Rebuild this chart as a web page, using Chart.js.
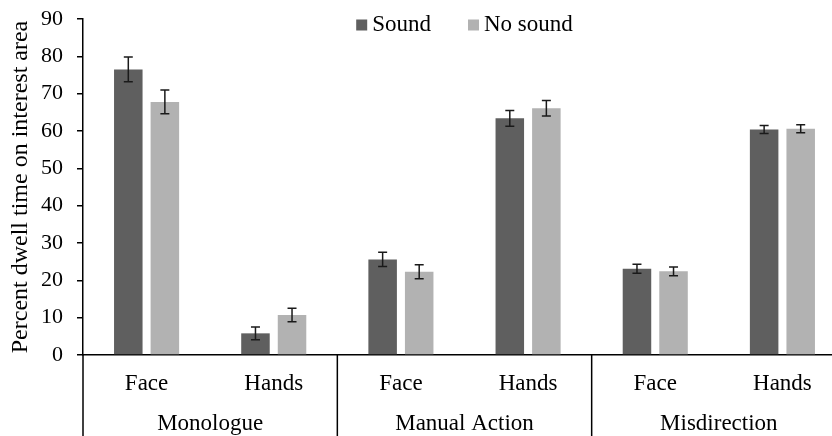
<!DOCTYPE html>
<html>
<head>
<meta charset="utf-8">
<script src="https://cdn.jsdelivr.net/npm/chart.js@4"></script>
<style>
  html, body { margin: 0; padding: 0; background: #fff; overflow: hidden; }
  #wrap { width: 846px; height: 436px; }
</style>
</head>
<body>
<div id="wrap"><canvas id="dwellChart"></canvas></div>
<script>
const categories = ["Face", "Hands", "Face", "Hands", "Face", "Hands"];
const groups = ["Monologue", "Manual Action", "Misdirection"];
const soundValues = [76.5, 5.8, 25.6, 63.4, 23.1, 60.4];
const soundErrors = [3.3, 1.7, 1.9, 2.1, 1.2, 1.1];
const noSoundValues = [67.8, 10.7, 22.3, 66.1, 22.4, 60.6];
const noSoundErrors = [3.2, 1.8, 1.9, 2.1, 1.2, 1.1];
const yTicks = [0, 10, 20, 30, 40, 50, 60, 70, 80, 90];

const serif = "'Liberation Serif', 'Times New Roman', serif";

// error bars drawn through the y scale
const errorBars = {
    id: 'errorBars',
    afterDatasetsDraw(chart) {
        const ctx = chart.ctx;
        const y = chart.scales.y;
        ctx.save();
        ctx.strokeStyle = '#1a1a1a';
        ctx.lineWidth = 1.5;
        chart.data.datasets.forEach((ds, di) => {
            const meta = chart.getDatasetMeta(di);
            meta.data.forEach((bar, i) => {
                const v = ds.data[i], e = ds.errors[i];
                const top = y.getPixelForValue(v + e);
                const bot = y.getPixelForValue(v - e);
                ctx.beginPath();
                ctx.moveTo(bar.x, top); ctx.lineTo(bar.x, bot);
                ctx.moveTo(bar.x - 4.5, top); ctx.lineTo(bar.x + 4.5, top);
                ctx.moveTo(bar.x - 4.5, bot); ctx.lineTo(bar.x + 4.5, bot);
                ctx.stroke();
            });
        });
        ctx.restore();
    }
};

// group labels under the category labels, with separators
const groupAxis = {
    id: 'groupAxis',
    afterDraw(chart) {
        const ctx = chart.ctx;
        const x = chart.scales.x;
        const area = chart.chartArea;
        const step = x.getPixelForValue(1) - x.getPixelForValue(0);
        ctx.save();
        ctx.strokeStyle = '#000';
        ctx.lineWidth = 1.5;
        for (let g = 0; g <= groups.length; g++) {
            const px = x.getPixelForValue(g * 2) - step / 2;
            ctx.beginPath();
            ctx.moveTo(px, area.bottom);
            ctx.lineTo(px, chart.height);
            ctx.stroke();
        }
        ctx.fillStyle = '#000';
        ctx.font = '23px ' + serif;
        ctx.textAlign = 'center';
        ctx.textBaseline = 'middle';
        groups.forEach((name, g) => {
            const cx = (x.getPixelForValue(g * 2) + x.getPixelForValue(g * 2 + 1)) / 2;
            ctx.fillText(name, cx, 424);
        });
        ctx.restore();
    }
};

// legend drawn inside the plot at the top
const innerLegend = {
    id: 'innerLegend',
    afterDraw(chart) {
        const ctx = chart.ctx;
        const area = chart.chartArea;
        const box = 11, gapText = 5, gapItem = 37;
        ctx.save();
        ctx.font = '23px ' + serif;
        ctx.textBaseline = 'middle';
        ctx.textAlign = 'left';
        const items = chart.data.datasets.map(ds => ({
            label: ds.label, color: ds.backgroundColor, w: ctx.measureText(ds.label).width
        }));
        let total = 0;
        items.forEach((it, i) => { total += box + gapText + it.w + (i ? gapItem : 0); });
        let px = (area.left + area.right) / 2 - total / 2;
        const cy = 25;
        items.forEach(it => {
            ctx.fillStyle = it.color;
            ctx.fillRect(px, cy - box / 2, box, box);
            ctx.fillStyle = '#000';
            ctx.fillText(it.label, px + box + gapText, cy);
            px += box + gapText + it.w + gapItem;
        });
        ctx.restore();
    }
};

new Chart(document.getElementById('dwellChart'), {
    type: 'bar',
    data: {
        labels: categories,
        datasets: [
            {
                label: 'Sound',
                data: soundValues,
                errors: soundErrors,
                backgroundColor: '#5f5f5f',
                categoryPercentage: 0.575,
                barPercentage: 0.78
            },
            {
                label: 'No sound',
                data: noSoundValues,
                errors: noSoundErrors,
                backgroundColor: '#b2b2b2',
                categoryPercentage: 0.575,
                barPercentage: 0.78
            }
        ]
    },
    options: {
        responsive: true,
        maintainAspectRatio: false,
        animation: false,
        layout: { padding: { top: 19, right: 0, left: 0, bottom: 0 } },
        plugins: {
            legend: { display: false },
            tooltip: { enabled: false }
        },
        scales: {
            x: {
                grid: { drawOnChartArea: false, drawTicks: false },
                border: { color: '#000', width: 1.5 },
                ticks: { color: '#000', font: { family: serif, size: 23 }, padding: 15, maxRotation: 0 },
                afterFit: s => { s.height = 81; }
            },
            y: {
                min: 0,
                max: 90,
                afterBuildTicks: s => { s.ticks = yTicks.map(v => ({ value: v })); },
                grid: { drawOnChartArea: false, drawTicks: true, tickLength: 6, color: '#000', lineWidth: 1.5 },
                border: { color: '#000', width: 1.5 },
                ticks: { color: '#000', font: { family: serif, size: 22 }, padding: 14 },
                title: {
                    display: true,
                    text: 'Percent dwell time on interest area',
                    color: '#000',
                    font: { family: serif, size: 24 },
                    padding: { top: 6, bottom: 0 }
                },
                afterFit: s => {
                    s.width = 83;
                    s.paddingTop = 0;
                    s.paddingBottom = 0;
                }
            }
        }
    },
    plugins: [errorBars, groupAxis, innerLegend]
});
</script>
</body>
</html>
